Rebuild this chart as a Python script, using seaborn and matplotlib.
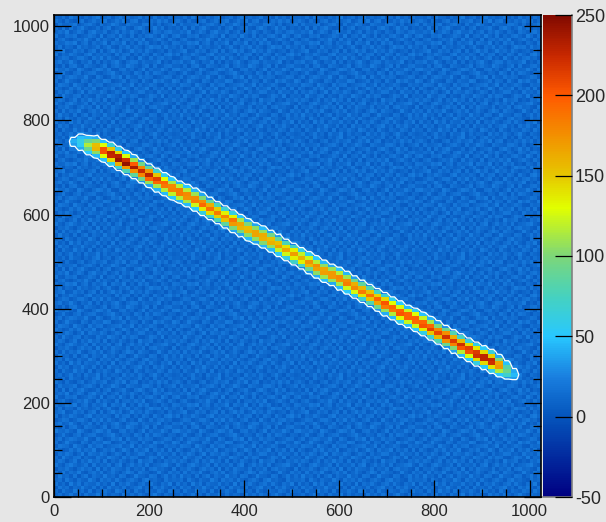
import numpy as np
import matplotlib
matplotlib.use('Agg')
import matplotlib.pyplot as plt
from matplotlib.colors import LinearSegmentedColormap
import seaborn as sns

n_bins = 128
bin_size = 8
axis_ticks = [0, 200, 400, 600, 800, 1000]
axis_minor = [50, 100, 150, 250, 300, 350, 450, 500, 550, 650, 700, 750, 850, 900, 950]
bar_ticks = [-50, 0, 50, 100, 150, 200, 250]

bar_values = [-50, 0, 25, 50, 75, 100, 130, 150, 200, 225, 250]
bar_colors = ['#000082', '#0555bc', '#1a80e0', '#28c8ff', '#46d2be', '#7dd778',
              '#e1ff00', '#e6c800', '#ff5a00', '#c82800', '#820a00']

# background grain, estimated, repeated over the whole plane
background = [
    [9, 12, 7, 10, 14, 8, 11, 6, 13, 9, 10, 15, 7, 12, 8, 11, 10, 6, 14, 9, 12, 8, 13, 10, 7, 11, 15, 9, 6, 12, 10, 8],
    [11, 6, 13, 9, 8, 15, 10, 12, 7, 14, 6, 11, 9, 13, 10, 7, 15, 12, 8, 11, 6, 14, 9, 7, 12, 10, 8, 13, 11, 7, 14, 10],
    [7, 14, 10, 12, 6, 11, 9, 15, 10, 8, 13, 7, 12, 6, 14, 9, 11, 8, 13, 7, 10, 12, 15, 8, 11, 6, 13, 10, 14, 9, 7, 12],
    [13, 8, 11, 6, 15, 9, 13, 7, 12, 10, 9, 14, 8, 11, 7, 15, 6, 12, 10, 14, 9, 7, 11, 13, 8, 14, 9, 7, 12, 10, 15, 6],
    [10, 12, 6, 14, 10, 7, 12, 9, 8, 15, 11, 6, 13, 10, 12, 8, 14, 9, 7, 11, 13, 10, 6, 12, 15, 9, 11, 8, 6, 13, 9, 11],
    [8, 15, 9, 11, 7, 13, 6, 11, 14, 7, 12, 10, 8, 15, 9, 11, 7, 13, 12, 6, 8, 15, 10, 9, 7, 13, 12, 6, 10, 14, 8, 12],
    [12, 7, 14, 8, 12, 10, 15, 8, 6, 11, 13, 9, 14, 7, 10, 13, 9, 6, 11, 15, 12, 7, 14, 11, 10, 6, 8, 15, 9, 7, 13, 10],
    [6, 11, 10, 13, 9, 6, 11, 14, 10, 12, 7, 15, 6, 12, 8, 14, 11, 10, 8, 13, 7, 11, 9, 13, 6, 12, 14, 10, 11, 8, 6, 14],
    [14, 9, 7, 12, 15, 11, 8, 10, 13, 6, 14, 8, 11, 9, 13, 7, 12, 15, 6, 10, 14, 9, 12, 8, 14, 7, 10, 11, 13, 15, 9, 7],
    [9, 13, 11, 6, 10, 14, 7, 12, 9, 15, 10, 12, 7, 14, 6, 11, 8, 13, 10, 7, 11, 6, 15, 10, 11, 13, 6, 9, 7, 12, 10, 13],
    [11, 7, 15, 10, 8, 12, 13, 6, 11, 8, 7, 13, 10, 8, 15, 12, 10, 7, 14, 9, 13, 12, 7, 6, 9, 14, 12, 8, 15, 6, 11, 9],
    [7, 12, 9, 14, 11, 6, 10, 15, 7, 13, 11, 9, 14, 11, 6, 9, 13, 11, 6, 12, 8, 10, 14, 13, 8, 10, 7, 14, 10, 11, 8, 13],
    [13, 10, 6, 8, 13, 9, 14, 8, 12, 10, 15, 6, 8, 12, 10, 14, 7, 9, 15, 11, 6, 13, 9, 11, 15, 6, 12, 9, 13, 7, 14, 6],
    [8, 14, 12, 11, 7, 15, 11, 9, 6, 14, 9, 12, 13, 7, 9, 11, 12, 14, 8, 10, 15, 7, 12, 8, 10, 13, 11, 7, 6, 12, 10, 11],
    [12, 6, 9, 15, 10, 8, 6, 13, 11, 7, 12, 10, 9, 15, 13, 6, 8, 10, 13, 7, 12, 11, 6, 14, 9, 7, 15, 11, 14, 9, 8, 15],
    [10, 13, 7, 11, 14, 12, 9, 10, 15, 8, 6, 14, 11, 6, 8, 13, 11, 15, 6, 14, 9, 8, 13, 10, 12, 11, 6, 8, 10, 13, 12, 7],
    [6, 9, 14, 8, 6, 11, 13, 7, 10, 12, 13, 8, 7, 10, 12, 15, 9, 7, 11, 10, 7, 14, 11, 6, 13, 8, 14, 12, 9, 6, 11, 10],
    [15, 11, 10, 13, 9, 7, 15, 12, 8, 6, 11, 15, 13, 9, 14, 7, 6, 12, 13, 8, 11, 6, 10, 15, 7, 12, 9, 10, 15, 11, 7, 14],
    [9, 7, 12, 6, 12, 14, 8, 6, 13, 11, 9, 7, 10, 14, 6, 11, 13, 10, 8, 15, 12, 9, 7, 11, 14, 6, 13, 7, 8, 12, 13, 9],
    [11, 14, 8, 10, 15, 10, 6, 11, 9, 14, 7, 12, 6, 11, 8, 12, 15, 9, 6, 11, 14, 13, 8, 12, 10, 9, 11, 15, 6, 10, 7, 12],
    [7, 10, 13, 12, 7, 9, 13, 14, 10, 6, 13, 10, 15, 8, 13, 9, 7, 11, 14, 7, 10, 6, 15, 9, 7, 13, 8, 12, 14, 9, 11, 6],
    [13, 6, 11, 9, 14, 11, 8, 7, 12, 15, 8, 11, 9, 12, 10, 6, 14, 8, 12, 13, 6, 11, 7, 13, 11, 6, 14, 10, 7, 13, 15, 10],
    [10, 12, 15, 7, 8, 13, 10, 12, 6, 11, 14, 6, 13, 7, 11, 15, 10, 13, 7, 9, 15, 10, 12, 8, 14, 10, 7, 9, 11, 6, 12, 8],
    [8, 13, 6, 11, 10, 6, 14, 9, 11, 8, 10, 13, 7, 10, 14, 8, 6, 12, 10, 14, 8, 12, 9, 6, 11, 15, 12, 13, 8, 14, 9, 11],
    [12, 9, 10, 14, 12, 15, 7, 11, 13, 7, 12, 9, 11, 15, 6, 13, 11, 9, 15, 6, 11, 7, 14, 10, 13, 7, 9, 6, 12, 10, 7, 13],
    [6, 11, 13, 8, 6, 9, 12, 10, 15, 9, 6, 14, 8, 12, 9, 7, 14, 6, 11, 12, 9, 13, 10, 15, 6, 8, 11, 14, 10, 7, 13, 9],
    [14, 8, 7, 12, 11, 13, 6, 8, 10, 13, 11, 7, 15, 6, 11, 12, 8, 15, 10, 7, 13, 6, 11, 8, 12, 14, 10, 7, 15, 11, 6, 12],
    [9, 12, 10, 15, 7, 10, 14, 11, 6, 12, 15, 10, 9, 13, 7, 10, 13, 7, 12, 9, 14, 10, 7, 12, 9, 6, 13, 11, 8, 12, 14, 10],
    [11, 7, 14, 6, 13, 8, 12, 15, 9, 7, 8, 12, 6, 11, 14, 6, 9, 11, 14, 8, 6, 12, 15, 11, 7, 10, 15, 9, 13, 6, 10, 8],
    [7, 13, 9, 10, 11, 14, 7, 9, 12, 14, 10, 6, 13, 8, 10, 15, 12, 8, 6, 13, 11, 9, 8, 13, 14, 11, 7, 12, 6, 9, 11, 14],
    [13, 10, 6, 12, 8, 6, 11, 13, 7, 10, 13, 9, 11, 14, 7, 9, 13, 10, 15, 7, 12, 14, 6, 10, 8, 12, 9, 14, 10, 13, 7, 11],
    [10, 8, 12, 7, 14, 10, 9, 6, 11, 8, 12, 15, 7, 10, 12, 6, 11, 14, 9, 11, 8, 10, 13, 7, 11, 6, 13, 8, 11, 7, 12, 9],
]

# track: each column covers 2 bins, first one starts at bin 4; rows start at track_start
track_start = [90, 90, 89, 89, 87, 86, 85, 84, 83, 82, 81, 80, 79, 78, 76, 75, 74, 73, 72, 71,
               70, 69, 68, 67, 65, 64, 63, 62, 61, 60, 59, 58, 57, 56, 54, 53, 52, 51, 50, 49,
               48, 47, 46, 45, 43, 42, 41, 40, 39, 38, 37, 36, 35, 34, 32, 31, 30, 29, 28]
track_cells = [
    [2, 8, 20, 36, 42, 30, 12, 5, 2], [3, 12, 40, 55, 60, 48, 28, 8, 1],
    [4, 18, 50, 90, 115, 90, 45, 15, 3], [12, 45, 104, 158, 155, 99, 41, 10, 2],
    [2, 11, 47, 129, 204, 204, 129, 47, 11], [2, 14, 60, 144, 226, 230, 151, 65, 17],
    [2, 20, 69, 161, 241, 231, 144, 57, 15], [5, 25, 78, 172, 243, 221, 127, 49, 12],
    [5, 28, 87, 176, 235, 200, 110, 40, 9], [7, 32, 95, 180, 225, 180, 95, 32, 7],
    [9, 39, 108, 196, 230, 173, 85, 28, 5], [11, 43, 112, 194, 213, 151, 69, 22, 4],
    [12, 46, 116, 186, 194, 130, 56, 16, 2], [13, 51, 120, 182, 179, 114, 48, 11, 2],
    [2, 10, 43, 117, 185, 185, 117, 43, 10], [2, 11, 46, 111, 174, 178, 117, 50, 13],
    [2, 15, 53, 124, 184, 177, 110, 44, 11], [4, 20, 62, 137, 193, 176, 101, 39, 10],
    [4, 23, 70, 143, 190, 162, 89, 32, 8], [6, 26, 78, 148, 185, 148, 78, 26, 6],
    [7, 31, 85, 153, 180, 135, 67, 22, 4], [10, 38, 99, 171, 188, 133, 61, 19, 4],
    [10, 39, 99, 158, 165, 111, 48, 14, 2], [12, 45, 104, 158, 155, 99, 41, 10, 2],
    [2, 9, 39, 105, 166, 166, 105, 39, 9], [2, 10, 43, 102, 160, 163, 107, 46, 12],
    [2, 13, 46, 107, 160, 153, 96, 38, 10], [3, 17, 54, 119, 168, 153, 88, 34, 9],
    [3, 20, 61, 124, 165, 140, 78, 28, 7], [5, 24, 71, 136, 170, 136, 71, 24, 5],
    [6, 27, 75, 136, 160, 120, 59, 19, 3], [9, 35, 91, 158, 173, 123, 56, 18, 4],
    [11, 41, 104, 167, 175, 117, 50, 14, 2], [12, 47, 110, 168, 165, 105, 44, 11, 2],
    [2, 9, 40, 108, 171, 171, 108, 40, 9], [2, 11, 46, 111, 174, 178, 117, 50, 13],
    [2, 15, 53, 124, 184, 177, 110, 44, 11], [4, 18, 58, 126, 178, 162, 94, 36, 9],
    [4, 22, 68, 139, 185, 157, 87, 31, 7], [6, 27, 80, 152, 190, 152, 80, 27, 6],
    [8, 33, 92, 166, 195, 146, 72, 23, 4], [10, 41, 107, 185, 203, 144, 66, 21, 4],
    [12, 46, 116, 186, 194, 130, 56, 16, 2], [15, 57, 132, 202, 197, 126, 53, 13, 2],
    [2, 10, 45, 123, 195, 195, 123, 45, 10], [2, 12, 51, 123, 193, 197, 129, 55, 14],
    [2, 17, 59, 137, 204, 195, 122, 48, 13], [4, 22, 69, 151, 213, 194, 112, 43, 11],
    [4, 25, 78, 158, 210, 179, 99, 36, 8], [7, 31, 92, 176, 220, 176, 92, 31, 7],
    [9, 37, 101, 183, 215, 161, 80, 26, 4], [11, 45, 117, 203, 223, 158, 72, 23, 5],
    [13, 51, 128, 205, 213, 143, 62, 18, 2], [16, 62, 145, 221, 216, 138, 58, 14, 2],
    [2, 12, 53, 144, 228, 228, 144, 53, 12], [2, 14, 59, 141, 221, 226, 148, 63, 16],
    [2, 17, 50, 115, 172, 165, 100, 40, 13], [3, 12, 34, 70, 92, 82, 48, 22, 8],
    [1, 7, 18, 36, 46, 40, 24, 10, 2],
]

# grain spread is about twice the typed one
grid = 2.0 * np.tile(np.array(background), (4, 4)) - 8
for i, (start, cells) in enumerate(zip(track_start, track_cells)):
    for j, v in enumerate(cells):
        grid[start + j, 4 + 2 * i:6 + 2 * i] = np.maximum(grid[start + j, 4 + 2 * i:6 + 2 * i], v)

stops = [(v - bar_values[0]) / (bar_values[-1] - bar_values[0]) for v in bar_values]
cmap = LinearSegmentedColormap.from_list('track', list(zip(stops, bar_colors)), N=256)

sns.set_style('ticks')
plt.rcParams['font.family'] = ['Liberation Sans', 'DejaVu Sans']
W, H = 606, 522
fig = plt.figure(figsize=(W / 100, H / 100), dpi=100, facecolor='#e6e6e6')
ax = fig.add_axes([54 / W, 1 - 497 / H, 487 / W, 482 / H])
cax = fig.add_axes([543 / W, 1 - 497 / H, 29 / W, 482 / H])

sns.heatmap(grid, ax=ax, cbar_ax=cax, cmap=cmap, vmin=-50, vmax=250, square=False,
            xticklabels=False, yticklabels=False, rasterized=True)
ax.invert_yaxis()
ax.contour(np.arange(n_bins) + 0.5, np.arange(n_bins) + 0.5, grid, levels=[30],
           colors='white', linewidths=0.9)

ax.set_axisbelow(False)
ax.set_xticks([t / bin_size for t in axis_ticks])
ax.set_xticklabels(axis_ticks)
ax.set_yticks([t / bin_size for t in axis_ticks])
ax.set_yticklabels(axis_ticks)
ax.set_xticks([t / bin_size for t in axis_minor], minor=True)
ax.set_yticks([t / bin_size for t in axis_minor], minor=True)
ax.tick_params(which='major', direction='in', length=12, width=0.9, color='black',
               top=True, right=True, labelsize=12, pad=3)
ax.tick_params(axis='x', which='major', pad=5)
ax.tick_params(which='minor', direction='in', length=6, width=0.9, color='black',
               top=True, right=True)
for s in ax.spines.values():
    s.set_visible(True)
    s.set_color('black')
    s.set_linewidth(1.2)

cax.set_axisbelow(False)
cax.set_yticks(bar_ticks)
cax.set_yticklabels(bar_ticks)
cax.tick_params(axis='y', direction='in', length=12, width=0.9, color='black', labelsize=13, pad=2)
cax.minorticks_off()
for s in cax.spines.values():
    s.set_visible(True)
    s.set_linewidth(0)
cax.spines['right'].set_color('#808080')
cax.spines['right'].set_linewidth(1.2)
cax.spines['bottom'].set_color('#808080')
cax.spines['bottom'].set_linewidth(1.2)

fig.savefig('out.png', dpi=100, facecolor=fig.get_facecolor())
